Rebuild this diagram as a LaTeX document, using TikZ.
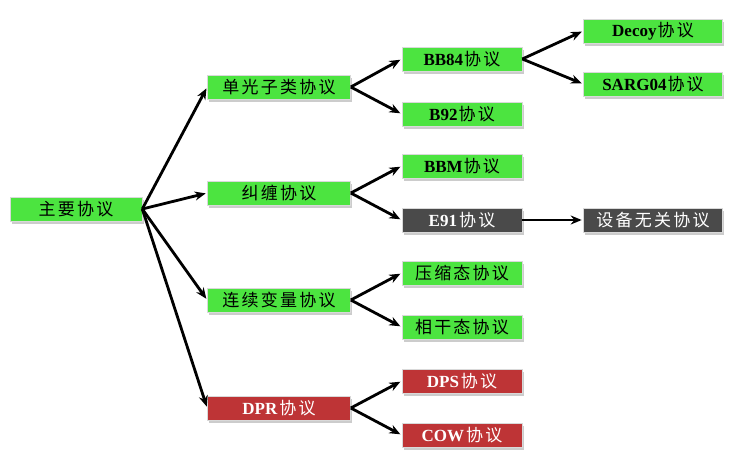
\documentclass[tikz,border=0pt]{standalone}
\usepackage{fontspec}
\setmainfont{Liberation Serif}
\newfontfamily\cjk{Noto Sans CJK SC}[LetterSpace=13]
\usetikzlibrary{arrows.meta,shadows}
\definecolor{boxgreen}{RGB}{76,228,64}
\definecolor{boxred}{RGB}{190,52,54}
\definecolor{boxgray}{RGB}{74,74,74}
\newcommand\zh[1]{{\cjk\mdseries #1}}
\tikzset{
  base/.style={draw=black!15, line width=0.6pt, minimum height=24pt, inner sep=0pt,
    font=\fontsize{17}{19}\selectfont\bfseries,
    drop shadow={shadow xshift=1.5pt, shadow yshift=-2.5pt, opacity=0.4}},
  gbox/.style={base, fill=boxgreen, text=black},
  rbox/.style={base, fill=boxred, text=white},
  kbox/.style={base, fill=boxgray, text=white},
  wa/.style={minimum width=132pt},
  wb/.style={minimum width=143pt},
  wc/.style={minimum width=120pt},
  wd/.style={minimum width=139pt},
  arr/.style={-{Stealth[length=11pt,width=9pt]}, line width=2.8pt, shorten >=1.5pt}
}
\begin{document}
\begin{tikzpicture}[x=1pt,y=-1pt]
\useasboundingbox[fill=white] (0,0) rectangle (745,471);
\node[gbox,wa] (root) at (76,209) {\zh{主要协议}};
\node[gbox,wb] (sp) at (279,87) {\zh{单光子类协议}};
\node[gbox,wb] (ent) at (279,193) {\zh{纠缠协议}};
\node[gbox,wb] (cv) at (279,300) {\zh{连续变量协议}};
\node[rbox,wb] (dpr) at (279,408) {DPR\kern2pt\zh{协议}};
\node[gbox,wc] (bb84) at (462,59) {BB84\kern1pt\zh{协议}};
\node[gbox,wc] (b92) at (462,114) {B92\kern1pt\zh{协议}};
\node[gbox,wc] (bbm) at (462,166) {BBM\kern1pt\zh{协议}};
\node[kbox,wc] (e91) at (462,220) {E91\kern2pt\zh{协议}};
\node[gbox,wc] (sq) at (462,273) {\zh{压缩态协议}};
\node[gbox,wc] (coh) at (462,327) {\zh{相干态协议}};
\node[rbox,wc] (dps) at (462,381) {DPS\kern2pt\zh{协议}};
\node[rbox,wc] (cow) at (462,435) {COW\kern2pt\zh{协议}};
\node[gbox,wd] (decoy) at (653,31) {Decoy\kern1pt\zh{协议}};
\node[gbox,wd] (sarg) at (653,84) {SARG04\kern1pt\zh{协议}};
\node[kbox,wd] (di) at (653,220) {\zh{设备无关协议}};
\foreach \t in {sp,ent,cv,dpr} \draw[arr] (root.east) -- (\t.west);
\foreach \t in {bb84,b92} \draw[arr] (sp.east) -- (\t.west);
\foreach \t in {bbm,e91} \draw[arr] (ent.east) -- (\t.west);
\foreach \t in {sq,coh} \draw[arr] (cv.east) -- (\t.west);
\foreach \t in {dps,cow} \draw[arr] (dpr.east) -- (\t.west);
\foreach \t in {decoy,sarg} \draw[arr] (bb84.east) -- (\t.west);
\draw[arr] (e91.east) -- (di.west);
\end{tikzpicture}
\end{document}
